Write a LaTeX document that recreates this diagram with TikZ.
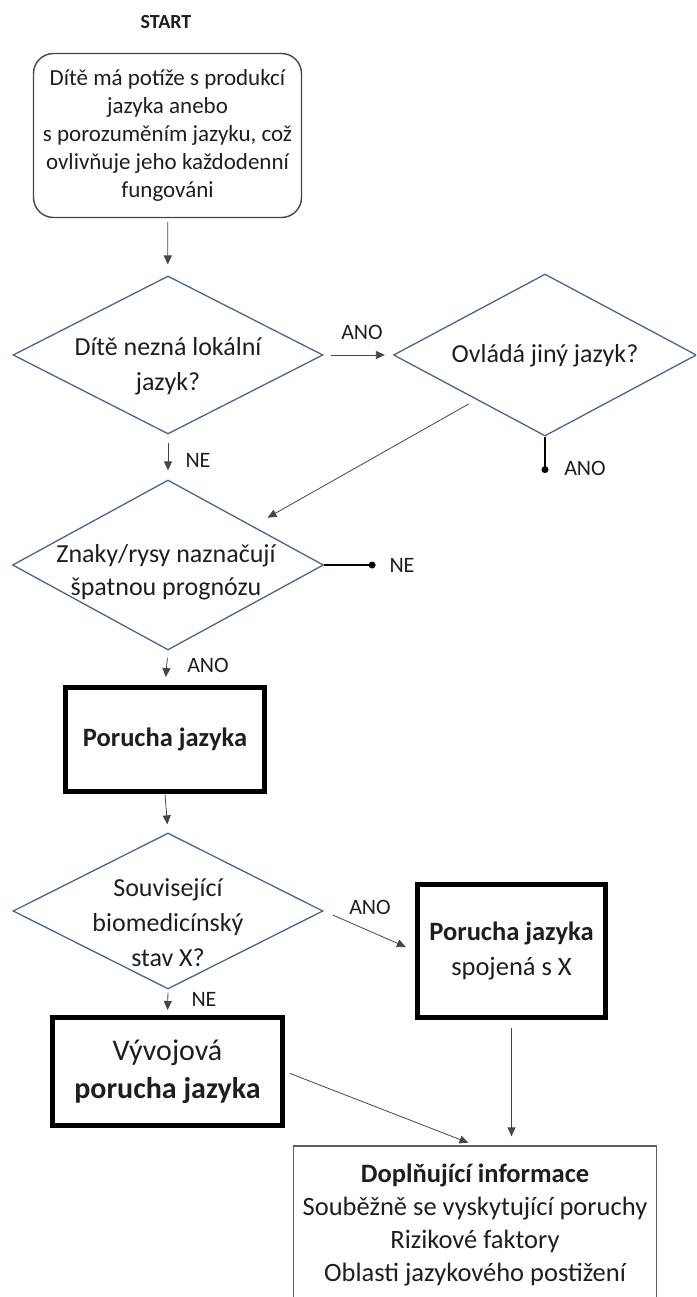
\documentclass[tikz,border=0pt]{standalone}
\usepackage{fontspec}
\setmainfont{Carlito}
\usetikzlibrary{shapes.geometric,arrows.meta}
\definecolor{diamondblue}{RGB}{72,100,145}
\definecolor{linegray}{RGB}{70,70,70}
\definecolor{textgray}{RGB}{30,30,30}
\definecolor{boxgray}{RGB}{95,95,95}

\begin{document}
\begin{tikzpicture}[x=1pt,y=-1pt,
  every node/.style={text=textgray},
  question/.style={diamond,draw=diamondblue,line width=1.3pt,inner sep=0pt},
  qtext/.style={align=center,font=\fontsize{26}{35}\selectfont},
  firstbox/.style={draw=linegray,line width=1.4pt,rounded corners=20pt,align=center,
    minimum width=268pt,minimum height=164pt,font=\fontsize{23}{28}\selectfont},
  result/.style={draw=black,line width=5pt,align=center,inner sep=0pt},
  infobox/.style={draw=boxgray,line width=1.3pt,align=center,inner sep=0pt,
    minimum width=363pt,minimum height=158pt,font=\fontsize{26.5}{33}\selectfont},
  lbl/.style={font=\fontsize{22}{24}\selectfont},
  arr/.style={draw=linegray,line width=0.8pt,-{Triangle[length=9pt,width=8pt]}},
  stub/.style={draw=black,line width=1.2pt}
]
\useasboundingbox (0,0) rectangle (696,1297);
\clip (0,0) rectangle (696,1297);

% start
\node[font=\fontsize{20}{22}\selectfont\bfseries] (start) at (166,22) {START};
\node[firstbox] (problem) at (167.5,135.5) {Dítě má potíže s produkcí\\jazyka anebo\\s porozuměním jazyku, což\\ovlivňuje jeho každodenní\\fungováni};

% questions
\node[question,minimum width=310pt,minimum height=158pt] (d1) at (168,355) {};
\node[qtext] (d1t) at (168,366) {Dítě nezná lokální\\jazyk?};
\node[question,minimum width=303pt,minimum height=162pt] (d2) at (545,355) {};
\node[qtext] (d2t) at (545,356) {Ovládá jiný jazyk?};
\node[question,minimum width=311pt,minimum height=170pt] (d3) at (168,565) {};
\node[qtext,font=\fontsize{26}{33}\selectfont] (d3t) at (166,572) {Znaky/rysy naznačují\\špatnou prognózu};
\node[question,minimum width=310pt,minimum height=156pt] (d4) at (168,911) {};
\node[qtext] (d4t) at (168,923) {Související\\biomedicínský\\stav X?};

% results
\node[result,minimum width=199pt,minimum height=104pt,font=\fontsize{26.5}{33}\selectfont\bfseries] (lang) at (165,739.5) {Porucha jazyka};
\node[result,minimum width=188pt,minimum height=133pt,font=\fontsize{26.5}{35}\selectfont] (linked) at (511.5,951) {\textbf{Porucha jazyka}\\spojená s X};
\node[result,minimum width=230pt,minimum height=108pt,font=\fontsize{30}{38}\selectfont] (devel) at (167.5,1071.5) {Vývojová\\\textbf{porucha jazyka}};
\node[infobox] (info) at (475,1225) {\textbf{Doplňující informace}\\Souběžně se vyskytující poruchy\\Rizikové faktory\\Oblasti jazykového postižení};

% labels
\node[lbl] (ano1) at (362,332) {ANO};
\node[lbl] (ne1) at (198,460) {NE};
\node[lbl] (ano2) at (585,468) {ANO};
\node[lbl] (ne2) at (402,565) {NE};
\node[lbl] (ano3) at (208,665) {ANO};
\node[lbl] (ano4) at (370,907) {ANO};
\node[lbl] (ne3) at (204,999) {NE};

% loose ends
\coordinate (d2end) at ([yshift=-33pt]d2.south);
\coordinate (d3end) at ([xshift=48pt]d3.east);

% connectors
\draw[arr,shorten <=4pt,shorten >=11pt] (problem) -- (d1);
\draw[arr,shorten <=7pt,shorten >=8pt] (d1.east) -- (d2.west);
\draw[arr,shorten <=8pt,shorten >=9pt] (d1.south) -- (d3.north);
\draw[arr] ([yshift=-8pt]d2.south west) -- ([xshift=21.5pt,yshift=4.5pt]d3.north east);
\draw[stub] (d2.south) -- (d2end);
\fill (d2end) circle (3.5pt);
\draw[stub] (d3.east) -- (d3end);
\fill (d3end) circle (3.5pt);
\draw[arr,shorten <=7pt,shorten >=8pt] (d3.south) -- (lang.north);
\draw[arr,shorten <=1pt,shorten >=8pt] (lang.south) -- (d4.north);
\draw[arr,shorten <=10pt,shorten >=10pt] (d4.east) -- (linked.west);
\draw[arr,shorten <=3pt,shorten >=5pt] (d4.south) -- (devel.north);
\draw[arr,shorten <=8pt,shorten >=9pt] (linked.south) -- (linked.south |- info.north);
\draw[arr,shorten <=5pt,shorten >=7pt] (devel.east) -- (info.north);
\end{tikzpicture}
\end{document}
